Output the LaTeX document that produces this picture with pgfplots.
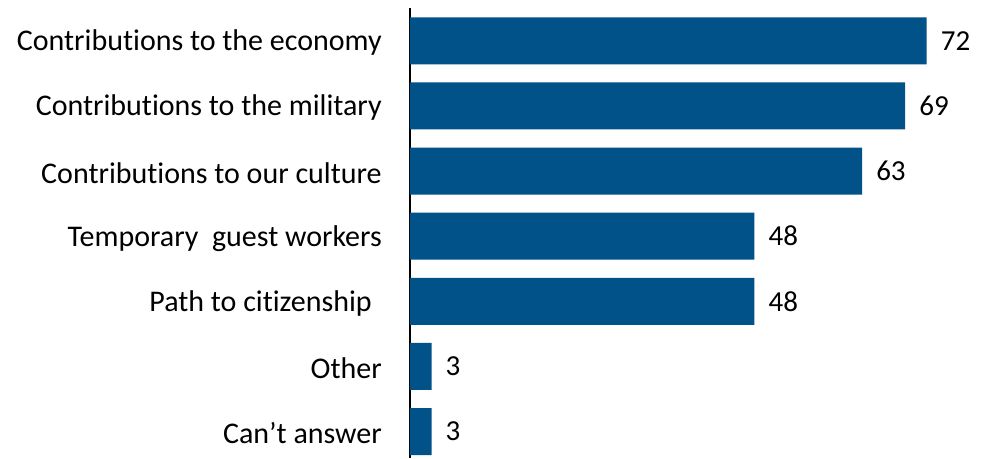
\documentclass[border=0pt]{standalone}
\usepackage{pgfplots}
\pgfplotsset{compat=1.18}
\usepackage{fontspec}
\setmainfont{Carlito}[Ligatures={NoCommon}]
\definecolor{barblue}{RGB}{0,82,136}
\begin{document}
\begin{tikzpicture}
\useasboundingbox (-410pt,0pt) rectangle (578pt,458pt);
\begin{axis}[
  at={(0pt,0pt)}, anchor=south west,
  scale only axis,
  width=578pt, height=450pt,
  xbar, bar width=47pt,
  xmin=0, xmax=80.55,
  ymin=-0.505, ymax=6.407,
  y dir=reverse,
  axis x line=none,
  axis y line*=left,
  y axis line style={line width=1.5pt, -},
  ytick={0,1,2,3,4,5,6},
  yticklabels={Contributions to the economy,Contributions to the military,Contributions to our culture,Temporary\ \ guest workers,Path to citizenship\kern10pt,Other,Can’t answer},
  major tick length=0pt,
  yticklabel style={font=\fontsize{30}{33}\selectfont, inner sep=0pt, xshift=-28pt, yshift=-2pt},
  /pgf/number format/assume math mode=true,
  nodes near coords,
  nodes near coords style={font=\fontsize{29}{33}\selectfont, anchor=west, inner sep=0pt, xshift=14pt},
  point meta=x,
]
\addplot[fill=barblue, draw=none] coordinates {(72,0) (69,1) (63,2) (48,3) (48,4) (3,5) (3,6)};
\end{axis}
\end{tikzpicture}
\end{document}
